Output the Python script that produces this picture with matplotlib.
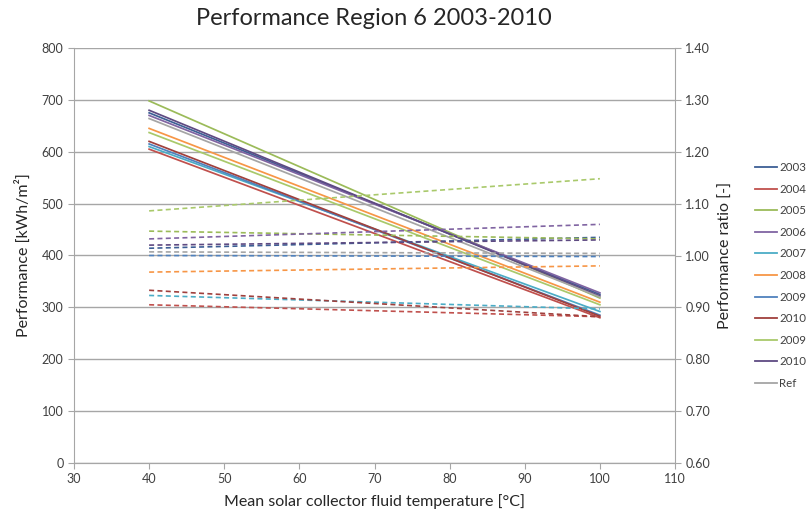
import matplotlib
matplotlib.use("Agg")
import matplotlib.pyplot as plt
from matplotlib.lines import Line2D

plt.rcParams['font.family'] = ['Lato', 'DejaVu Sans']

# Mean collector fluid temperature [°C]
temps = [40, 100]

series_names = ['2003', '2004', '2005', '2006', '2007', '2008',
                '2009', '2010', '2009', '2010', 'Ref']
series_colors = ['#3d5f95', '#c0504d', '#9bbb59', '#8064a2', '#4bacc6',
                 '#f79646', '#4f81bd', '#a0403d', '#a9c96b', '#5e4a82',
                 '#a5a5a5']

# Yearly performance [kWh/m²] at 40 °C and 100 °C
performance = [
    [675, 325],
    [605, 280],
    [698, 318],
    [670, 328],
    [610, 292],
    [645, 310],
    [615, 285],
    [620, 283],
    [637, 305],
    [680, 322],
    [664, 320],
]

# Performance ratio [-] at 40 °C and 100 °C
ratio = [
    [1.014, 1.035],
    [0.905, 0.882],
    [1.047, 1.032],
    [1.032, 1.060],
    [0.923, 0.897],
    [0.968, 0.980],
    [1.000, 0.998],
    [0.933, 0.882],
    [1.086, 1.148],
    [1.020, 1.030],
    [1.007, 1.004],
]

fig = plt.figure(figsize=(8.08, 5.13), dpi=100)
ax = fig.add_axes([74/808, 50/513, (675-74)/808, (463-48)/513])
ax2 = ax.twinx()

grid_c = '#a6a6a6'
ax.set_xlim(30, 110)
ax.set_ylim(0, 800)
ax2.set_ylim(0.6, 1.4)
ax.set_xticks(range(30, 111, 10))
ax.set_yticks(range(0, 801, 100))
ax2.set_yticks([0.6 + 0.1 * i for i in range(9)])
ax2.set_yticklabels([f"{0.6 + 0.1 * i:.2f}" for i in range(9)])
ax.yaxis.grid(True, color=grid_c, linewidth=1.0)
ax.set_axisbelow(True)

for a in (ax, ax2):
    a.spines['top'].set_visible(False)
    for side in ('left', 'right', 'bottom'):
        a.spines[side].set_color(grid_c)
    a.tick_params(colors=grid_c, labelcolor='#404040', labelsize=9, length=4)

ax2.spines['left'].set_visible(False)
ax.spines['right'].set_visible(False)

for r, c in zip(ratio, series_colors):
    ax2.plot(temps, r, color=c, linewidth=1.2, linestyle=(0, (3, 2)))
for p, c in zip(performance, series_colors):
    ax.plot(temps, p, color=c, linewidth=1.25)

ax.set_xlabel('Mean solar collector fluid temperature [°C]', fontsize=11.5,
              color='#262626', labelpad=6)
ax.set_ylabel('Performance [kWh/m²]', fontsize=11.5, color='#262626', labelpad=8)
ax2.set_ylabel('Performance ratio [-]', fontsize=11.5, color='#262626', labelpad=6)
fig.text(374/808, 1 - 19/513, 'Performance Region 6 2003-2010', fontsize=17,
         ha='center', va='center', color='#262626')

handles = [Line2D([0], [0], color=c, linewidth=1.3) for c in series_colors]
fig.legend(handles, series_names, loc='upper left',
           bbox_to_anchor=(755/808, 1 - 162/513), frameon=False,
           borderpad=0, borderaxespad=0,
           fontsize=8.3, handlelength=1.95, labelspacing=0.92, handletextpad=0.15,
           labelcolor='#404040')

fig.savefig('out.png', dpi=100)
